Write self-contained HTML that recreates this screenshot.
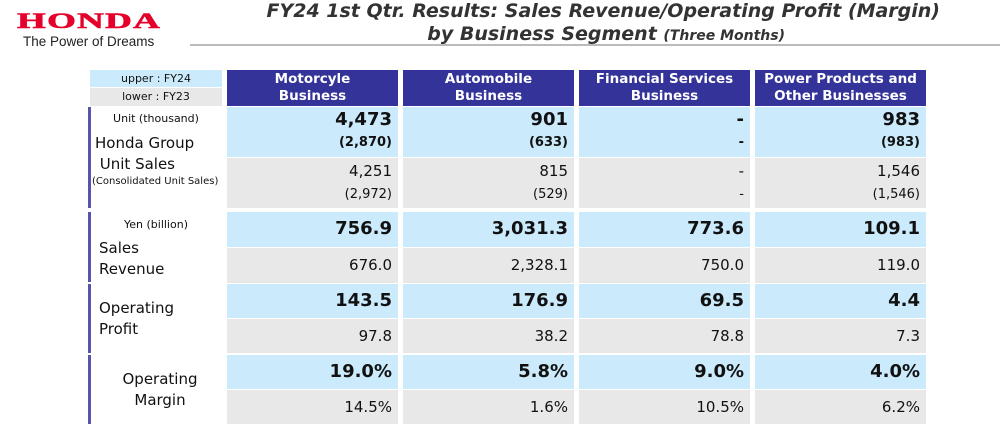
<!DOCTYPE html>
<html><head><meta charset="utf-8"><style>
body{margin:0;width:1000px;height:432px;background:#fff;position:relative;overflow:hidden;font-family:"DejaVu Sans","Liberation Sans",sans-serif;color:#111}
.a{position:absolute;box-sizing:border-box}
.hd{background:#333399;color:#fff;font-weight:bold;font-size:13.5px;text-align:center;line-height:17px;padding-top:1px}
.b{background:#cbeafc}.g{background:#e8e8e8}
.v{text-align:right;padding-right:6px}
.big{font-weight:bold;font-size:18px}
.sm{font-size:15px}
.vl{background:#5555aa;width:3px;left:88px}
</style></head><body>
<div class="a" style="left:17px;top:11px;font-family:'Liberation Serif',serif;font-weight:900;color:#e4002b;font-size:28px;line-height:28px;letter-spacing:1px;transform:scale(1.32,0.78);transform-origin:top left;-webkit-text-stroke:0.8px #e4002b">HONDA</div>
<div class="a" style="left:23px;top:34px;font-size:13.5px;color:#222;font-family:'Liberation Sans',sans-serif">The Power of Dreams</div>
<div class="a" style="left:200px;top:0;width:740px;text-align:right;font-style:italic;font-weight:bold;font-size:19px;color:#333;line-height:23px">FY24 1st Qtr. Results: Sales Revenue/Operating Profit (Margin)<br><span style="margin-right:155px">by Business Segment <span style="font-size:14px">(Three Months)</span></span></div>
<div class="a" style="left:190px;top:44px;width:810px;height:2px;background:#bbb"></div>

<div class="a b" style="left:90px;top:70px;width:132px;height:17px;font-size:11px;text-align:center;line-height:17px">upper : FY24</div>
<div class="a g" style="left:90px;top:88px;width:132px;height:18px;font-size:11px;text-align:center;line-height:18px">lower : FY23</div>

<div id="tbl"></div>

<div class="a vl" style="top:107px;height:101px"></div>
<div class="a vl" style="top:212px;height:70px"></div>
<div class="a vl" style="top:284px;height:69px"></div>
<div class="a vl" style="top:355px;height:69px"></div>

<div class="a" style="left:90px;top:112px;width:132px;text-align:center;font-size:11px">Unit (thousand)</div>
<div class="a" style="left:95px;top:133px;font-size:15px;line-height:21px">Honda Group<br>&nbsp;Unit Sales</div>
<div class="a" style="left:92px;top:176px;font-size:10px">(Consolidated Unit Sales)</div>
<div class="a" style="left:90px;top:218px;width:132px;text-align:center;font-size:11px">Yen (billion)</div>
<div class="a" style="left:99px;top:238px;font-size:15px;line-height:21px">Sales<br>Revenue</div>
<div class="a" style="left:99px;top:298px;font-size:15px;line-height:21px">Operating<br>Profit</div>
<div class="a" style="left:90px;top:369px;width:140px;text-align:center;font-size:15px;line-height:21px">Operating<br>Margin</div>

<script>
const segments=["Motorcyle<br>Business","Automobile<br>Business","Financial Services<br>Business","Power Products and<br>Other Businesses"];
const unitFY24=["4,473","901","-","983"];
const unitFY24c=["(2,870)","(633)","-","(983)"];
const unitFY23=["4,251","815","-","1,546"];
const unitFY23c=["(2,972)","(529)","-","(1,546)"];
const revFY24=["756.9","3,031.3","773.6","109.1"];
const revFY23=["676.0","2,328.1","750.0","119.0"];
const opFY24=["143.5","176.9","69.5","4.4"];
const opFY23=["97.8","38.2","78.8","7.3"];
const mFY24=["19.0%","5.8%","9.0%","4.0%"];
const mFY23=["14.5%","1.6%","10.5%","6.2%"];
const colX=[227,403,579,755],colW=171;
const T=document.getElementById('tbl');
function box(cls,x,y,w,h,html,name){const d=document.createElement('div');d.className='a '+cls;d.style.cssText=`left:${x}px;top:${y}px;width:${w}px;height:${h}px`;d.innerHTML=html;


T.appendChild(d);return d;}
function txt(x,y,w,s,cls,name){const d=box('v '+cls,x,y,w,22,s,name);d.style.background='none';d.style.lineHeight='22px';}
for(let i=0;i<4;i++){const x=colX[i];
box('hd',x,70,colW,36,segments[i],'segment-header');
box('b',x,107,colW,50,'','unit-fy24-cell');box('g',x,158,colW,50,'','unit-fy23-cell');
txt(x,109,colW,unitFY24[i],'big','unit-fy24-value');
txt(x,132,colW,unitFY24c[i],'','unit-fy24-consolidated');
T.lastChild.style.fontWeight='bold';T.lastChild.style.fontSize='13px';
txt(x,160,colW,unitFY23[i],'sm','unit-fy23-value');
txt(x,184,colW,unitFY23c[i],'','unit-fy23-consolidated');T.lastChild.style.fontSize='13px';
const rows=[[212,35,revFY24,revFY23,'revenue'],[284,34,opFY24,opFY23,'op-profit'],[355,34,mFY24,mFY23,'margin']];
for(const [y,h,a,b,n] of rows){
box('b',x,y,colW,h,'',n+'-fy24-cell');box('g',x,y+h+1,colW,h,'',n+'-fy23-cell');
txt(x,y+6,colW,a[i],'big',n+'-fy24-value');
txt(x,y+h+7,colW,b[i],'sm',n+'-fy23-value');}
}
</script>
</body></html>
